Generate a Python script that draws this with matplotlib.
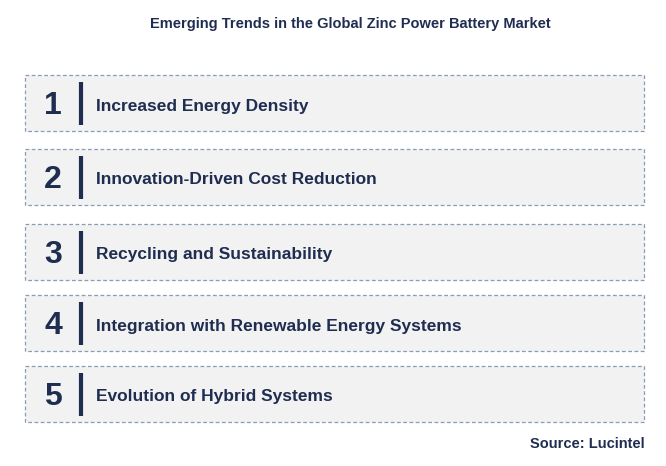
import matplotlib.pyplot as plt
from matplotlib.patches import Rectangle

plt.rcParams['font.family'] = 'Liberation Sans'

title = "Emerging Trends in the Global Zinc Power Battery Market"
numbers = ["1", "2", "3", "4", "5"]
labels = ["Increased Energy Density",
          "Innovation-Driven Cost Reduction",
          "Recycling and Sustainability",
          "Integration with Renewable Energy Systems",
          "Evolution of Hybrid Systems"]
box_tops = [75, 149, 224, 295, 366]
source = "Source: Lucintel"

W, H = 666, 466
navy = '#1f2d50'
fig = plt.figure(figsize=(W / 100, H / 100), dpi=100)
ax = fig.add_axes([0, 0, 1, 1])
ax.set_xlim(0, W)
ax.set_ylim(H, 0)
ax.axis('off')

ax.text(350, 24, title, ha='center', va='center', fontsize=10.5,
        fontweight='bold', color=navy)

for num, lab, top in zip(numbers, labels, box_tops):
    h = 56
    ax.add_patch(Rectangle((25, top), 619, h, facecolor='#f2f2f2',
                           edgecolor='#8a9bb5', linestyle=(0, (3, 2)), linewidth=0.9))
    cy = top + h / 2
    ax.text(53, cy + 3, num, ha='center', va='center', fontsize=23,
            fontweight='bold', color=navy)
    ax.plot([81, 81], [top + 7, top + h - 6], color=navy, linewidth=3,
            solid_capstyle='butt')
    ax.text(96, cy + 3, lab, ha='left', va='center', fontsize=12.5,
            fontweight='bold', color=navy)

ax.text(645, 444, source, ha='right', va='center', fontsize=10.5,
        fontweight='bold', color=navy)

fig.savefig('out.png', dpi=100)
